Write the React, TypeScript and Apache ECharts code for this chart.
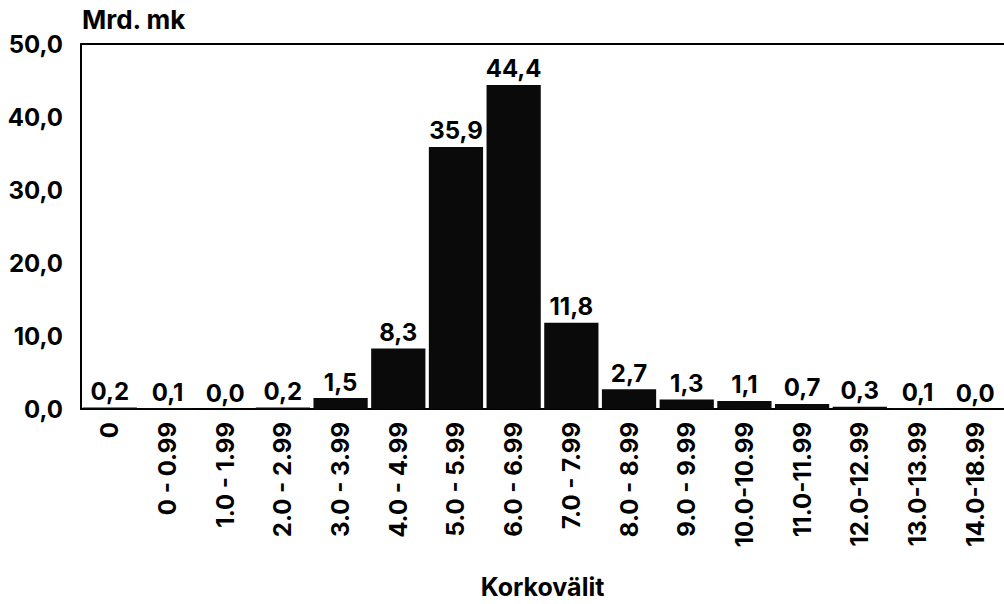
import React, { useEffect, useRef } from "react";
import * as echarts from "echarts";

const categories = [
  "0", "0 - 0.99", "1.0 - 1.99", "2.0 - 2.99", "3.0 - 3.99", "4.0 - 4.99",
  "5.0 - 5.99", "6.0 - 6.99", "7.0 - 7.99", "8.0 - 8.99", "9.0 - 9.99",
  "10.0-10.99", "11.0-11.99", "12.0-12.99", "13.0-13.99", "14.0-18.99",
];
const values = [0.2, 0.1, 0.0, 0.2, 1.5, 8.3, 35.9, 44.4, 11.8, 2.7, 1.3, 1.1, 0.7, 0.3, 0.1, 0.0];
const yTicks = [0, 10, 20, 30, 40, 50];
const yName = "Mrd. mk";
const xName = "Korkovälit";

const fmt = (v: number) => v.toFixed(1).replace(".", ",");
const FONT = "Inter, Liberation Sans, Arial, sans-serif";

export default function App() {
  const ref = useRef<HTMLDivElement>(null);
  useEffect(() => {
    if (!ref.current) return;
    const chart = echarts.init(ref.current, null, { renderer: "svg" });
    chart.setOption({
      animation: false,
      backgroundColor: "#ffffff",
      grid: { left: 81, right: 0, top: 44, bottom: 191, containLabel: false },
      xAxis: [
        {
          type: "category",
          data: categories,
          position: "bottom",
          axisLine: { show: true, lineStyle: { color: "#000", width: 2 } },
          axisTick: { show: false },
          axisLabel: {
            rotate: 90,
            interval: 0,
            margin: 13,
            color: "#000",
            fontFamily: FONT,
            fontWeight: "bold",
            fontSize: 24,
          },
          name: xName,
          nameLocation: "middle",
          nameGap: 165,
          nameTextStyle: { color: "#000", fontFamily: FONT, fontWeight: "bold", fontSize: 25 },
        },
        {
          type: "category",
          data: categories,
          position: "top",
          axisLine: { show: true, lineStyle: { color: "#000", width: 2 } },
          axisTick: { show: false },
          axisLabel: { show: false },
        },
      ],
      yAxis: {
        type: "value",
        min: yTicks[0],
        max: yTicks[yTicks.length - 1],
        interval: 10,
        axisLine: { show: true, lineStyle: { color: "#000", width: 2 } },
        axisTick: { show: false },
        splitLine: { show: false },
        axisLabel: {
          formatter: (v: number) => fmt(v),
          margin: 18,
          color: "#000",
          fontFamily: FONT,
          fontWeight: "bold",
          fontSize: 24,
        },
        name: yName,
        nameLocation: "end",
        nameGap: 12,
        nameTextStyle: {
          align: "left",
          verticalAlign: "bottom",
          padding: [0, 0, 0, 1],
          color: "#000",
          fontFamily: FONT,
          fontWeight: "bold",
          fontSize: 26,
        },
      },
      series: [
        {
          type: "bar",
          xAxisIndex: 0,
          data: values,
          barCategoryGap: "6%",
          itemStyle: { color: "#0a0a0a" },
          label: {
            show: true,
            position: "top",
            distance: 4,
            formatter: (p: any) => fmt(p.value),
            color: "#000",
            fontFamily: FONT,
            fontWeight: "bold",
            fontSize: 24,
          },
        },
      ],
    });
    return () => chart.dispose();
  }, []);
  return (
    <div
      ref={ref}
      style={{ position: "fixed", left: 0, top: 0, width: 1004, height: 604, background: "#fff" }}
    />
  );
}
